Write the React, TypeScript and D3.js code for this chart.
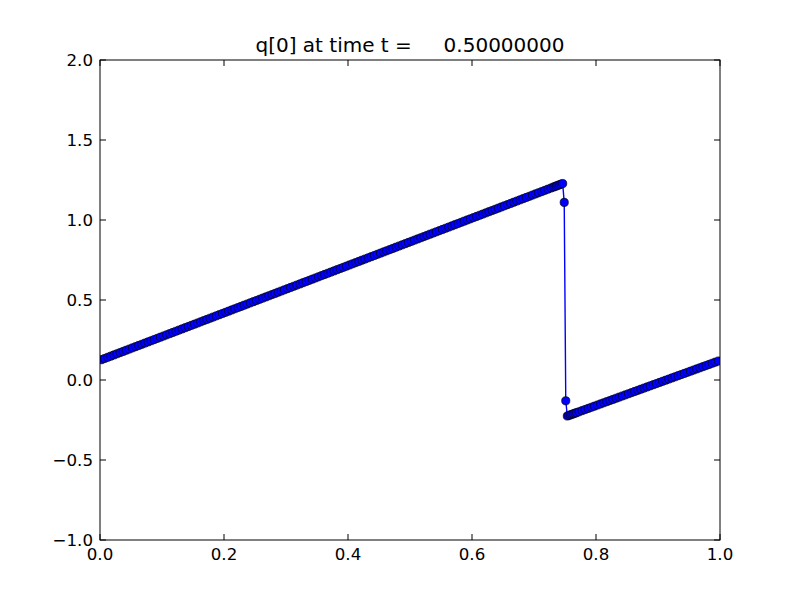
import React from "react";
import * as d3 from "d3";

const titleText = "q[0] at time t =     0.50000000";
const xTicks = [0.0, 0.2, 0.4, 0.6, 0.8, 1.0];
const yTicks = [-1.0, -0.5, 0.0, 0.5, 1.0, 1.5, 2.0];
const xDomain = [0, 1];
const yDomain = [-1, 2];

// cell centres (coarse grid, refined patch around the shock)
const xValues = [
  0.0025, 0.0075, 0.0125, 0.0175, 0.0225, 0.0275, 0.0325, 0.0375, 0.0425, 0.0475,
  0.0525, 0.0575, 0.0625, 0.0675, 0.0725, 0.0775, 0.0825, 0.0875, 0.0925, 0.0975,
  0.1025, 0.1075, 0.1125, 0.1175, 0.1225, 0.1275, 0.1325, 0.1375, 0.1425, 0.1475,
  0.1525, 0.1575, 0.1625, 0.1675, 0.1725, 0.1775, 0.1825, 0.1875, 0.1925, 0.1975,
  0.2025, 0.2075, 0.2125, 0.2175, 0.2225, 0.2275, 0.2325, 0.2375, 0.2425, 0.2475,
  0.2525, 0.2575, 0.2625, 0.2675, 0.2725, 0.2775, 0.2825, 0.2875, 0.2925, 0.2975,
  0.3025, 0.3075, 0.3125, 0.3175, 0.3225, 0.3275, 0.3325, 0.3375, 0.3425, 0.3475,
  0.3525, 0.3575, 0.3625, 0.3675, 0.3725, 0.3775, 0.3825, 0.3875, 0.3925, 0.3975,
  0.4025, 0.4075, 0.4125, 0.4175, 0.4225, 0.4275, 0.4325, 0.4375, 0.4425, 0.4475,
  0.4525, 0.4575, 0.4625, 0.4675, 0.4725, 0.4775, 0.4825, 0.4875, 0.4925, 0.4975,
  0.5025, 0.5075, 0.5125, 0.5175, 0.5225, 0.5275, 0.5325, 0.5375, 0.5425, 0.5475,
  0.5525, 0.5575, 0.5625, 0.5675, 0.5725, 0.5775, 0.5825, 0.5875, 0.5925, 0.5975,
  0.6025, 0.6075, 0.6125, 0.6175, 0.6225, 0.6275, 0.6325, 0.6375, 0.6425, 0.6475,
  0.6525, 0.6575, 0.6625, 0.6675, 0.6725, 0.6775, 0.6825, 0.6875, 0.6925, 0.6975,
  0.7025, 0.7075, 0.7125, 0.7175, 0.7225, 0.7275,
  0.73125, 0.73375, 0.73625, 0.73875, 0.74125, 0.74375, 0.74625, 0.74875,
  0.75125, 0.75375, 0.75625, 0.75875, 0.76125, 0.76375, 0.76625, 0.76875,
  0.7725, 0.7775, 0.7825, 0.7875, 0.7925, 0.7975,
  0.8025, 0.8075, 0.8125, 0.8175, 0.8225, 0.8275, 0.8325, 0.8375, 0.8425, 0.8475,
  0.8525, 0.8575, 0.8625, 0.8675, 0.8725, 0.8775, 0.8825, 0.8875, 0.8925, 0.8975,
  0.9025, 0.9075, 0.9125, 0.9175, 0.9225, 0.9275, 0.9325, 0.9375, 0.9425, 0.9475,
  0.9525, 0.9575, 0.9625, 0.9675, 0.9725, 0.9775, 0.9825, 0.9875, 0.9925, 0.9975,
];

// q[0] at those cell centres
const qValues = [
  0.1270, 0.1344, 0.1418, 0.1492, 0.1566, 0.1640, 0.1714, 0.1788, 0.1862, 0.1936,
  0.2010, 0.2084, 0.2158, 0.2232, 0.2306, 0.2380, 0.2454, 0.2528, 0.2602, 0.2676,
  0.2750, 0.2824, 0.2898, 0.2972, 0.3046, 0.3120, 0.3194, 0.3268, 0.3342, 0.3416,
  0.3490, 0.3564, 0.3638, 0.3712, 0.3786, 0.3860, 0.3934, 0.4008, 0.4082, 0.4156,
  0.4230, 0.4304, 0.4378, 0.4452, 0.4526, 0.4600, 0.4674, 0.4748, 0.4822, 0.4896,
  0.4970, 0.5044, 0.5118, 0.5192, 0.5266, 0.5340, 0.5414, 0.5488, 0.5562, 0.5636,
  0.5710, 0.5784, 0.5858, 0.5932, 0.6006, 0.6080, 0.6154, 0.6228, 0.6302, 0.6376,
  0.6450, 0.6524, 0.6598, 0.6672, 0.6746, 0.6820, 0.6894, 0.6968, 0.7042, 0.7116,
  0.7190, 0.7264, 0.7338, 0.7412, 0.7486, 0.7560, 0.7634, 0.7708, 0.7782, 0.7856,
  0.7930, 0.8004, 0.8078, 0.8152, 0.8226, 0.8300, 0.8374, 0.8448, 0.8522, 0.8596,
  0.8670, 0.8744, 0.8818, 0.8892, 0.8966, 0.9040, 0.9114, 0.9188, 0.9262, 0.9336,
  0.9410, 0.9484, 0.9558, 0.9632, 0.9706, 0.9780, 0.9854, 0.9928, 1.0002, 1.0076,
  1.0150, 1.0224, 1.0298, 1.0372, 1.0446, 1.0520, 1.0594, 1.0668, 1.0742, 1.0816,
  1.0890, 1.0964, 1.1038, 1.1112, 1.1186, 1.1260, 1.1334, 1.1408, 1.1482, 1.1556,
  1.1630, 1.1704, 1.1778, 1.1852, 1.1926, 1.2000,
  1.2056, 1.2093, 1.2130, 1.2167, 1.2204, 1.2241, 1.2278, 1.1100,
  -0.1300, -0.2250, -0.2215, -0.2180, -0.2145, -0.2110, -0.2075, -0.2040,
  -0.1986, -0.1916, -0.1845, -0.1775, -0.1704, -0.1634,
  -0.1563, -0.1493, -0.1422, -0.1352, -0.1281, -0.1211, -0.1140, -0.1070, -0.0999, -0.0929,
  -0.0858, -0.0788, -0.0717, -0.0647, -0.0576, -0.0506, -0.0435, -0.0365, -0.0294, -0.0224,
  -0.0153, -0.0083, -0.0012, 0.0059, 0.0129, 0.0200, 0.0270, 0.0341, 0.0411, 0.0482,
  0.0552, 0.0623, 0.0693, 0.0764, 0.0834, 0.0905, 0.0975, 0.1046, 0.1116, 0.1187,
];

const W = 800;
const H = 600;
const M = { left: 100, right: 80, top: 60, bottom: 60 };
const FONT = "'DejaVu Sans', sans-serif";

export default function App() {
  const x = d3.scaleLinear().domain(xDomain).range([M.left, W - M.right]);
  const y = d3.scaleLinear().domain(yDomain).range([H - M.bottom, M.top]);

  const pts = xValues.map((xv, i) => [xv, qValues[i]] as [number, number]);
  const line = d3.line<[number, number]>().x((d) => x(d[0])).y((d) => y(d[1]));
  const fmt = (v: number) => d3.format(".1f")(v).replace("-", "\u2212");

  const x0 = x(xDomain[0]), x1 = x(xDomain[1]);
  const y0 = y(yDomain[0]), y1 = y(yDomain[1]);
  const tl = 6;

  return (
    <svg
      width={W}
      height={H}
      style={{ position: "fixed", left: 0, top: 0, background: "#fff" }}
      fontFamily={FONT}
    >
      <rect x={0} y={0} width={W} height={H} fill="#fff" />
      <defs>
        <clipPath id="plotclip">
          <rect x={x0} y={y1} width={x1 - x0} height={y0 - y1} />
        </clipPath>
      </defs>
      <g clipPath="url(#plotclip)">
        <path d={line(pts) || ""} fill="none" stroke="#0000ff" strokeWidth={1.4} />
        {pts.map((p, i) => (
          <circle key={i} cx={x(p[0])} cy={y(p[1])} r={4.1} fill="#0000ff" stroke="#000" strokeWidth={0.7} />
        ))}
      </g>
      {xTicks.map((t) => (
        <g key={"xt" + t}>
          <line x1={x(t)} x2={x(t)} y1={y0} y2={y0 - tl} stroke="#000" strokeWidth={1} />
          <line x1={x(t)} x2={x(t)} y1={y1} y2={y1 + tl} stroke="#000" strokeWidth={1} />
          <text x={x(t)} y={y0 + 20} textAnchor="middle" fontSize={16.67} fill="#000">
            {fmt(t)}
          </text>
        </g>
      ))}
      {yTicks.map((t) => (
        <g key={"yt" + t}>
          <line x1={x0} x2={x0 + tl} y1={y(t)} y2={y(t)} stroke="#000" strokeWidth={1} />
          <line x1={x1} x2={x1 - tl} y1={y(t)} y2={y(t)} stroke="#000" strokeWidth={1} />
          <text x={x0 - 7} y={y(t) + 6} textAnchor="end" fontSize={16.67} fill="#000">
            {fmt(t)}
          </text>
        </g>
      ))}
      <rect x={x0} y={y1} width={x1 - x0} height={y0 - y1} fill="none" stroke="#000" strokeWidth={1} />
      <text
        x={(x0 + x1) / 2}
        y={52}
        textAnchor="middle"
        fontSize={20}
        fill="#000"
        style={{ whiteSpace: "pre" }}
        xmlSpace="preserve"
      >
        {titleText}
      </text>
    </svg>
  );
}
